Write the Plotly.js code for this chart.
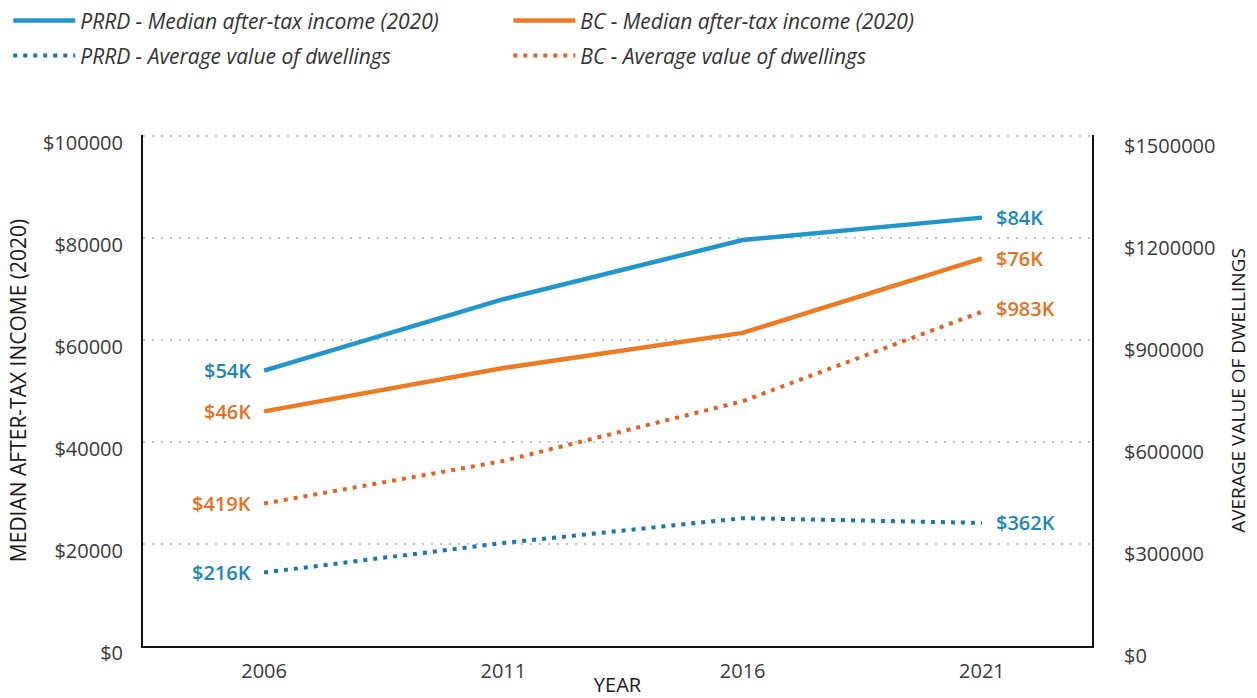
<!DOCTYPE html>
<html>
<head>
<meta charset="utf-8">
<script src="https://cdn.plot.ly/plotly-3.0.1.min.js"></script>
<style>html,body{margin:0;padding:0;background:#fff;}#chart{width:1257px;height:698px;}</style>
</head>
<body>
<div id="chart"></div>
<script>
// Data
const years = [2006, 2011, 2016, 2021];
const prrdIncome = [54000, 68000, 79600, 84000];
const bcIncome = [46000, 54500, 61400, 76000];
const prrdDwelling = [216000, 303000, 376000, 362000];
const bcDwelling = [419000, 544000, 720000, 983000];
const leftTicks = [0, 20000, 40000, 60000, 80000, 100000];
const rightTicks = [0, 300000, 600000, 900000, 1200000, 1500000];
const seriesNames = [
  'PRRD - Median after-tax income (2020)',
  'BC - Median after-tax income (2020)',
  'PRRD - Average value of dwellings',
  'BC - Average value of dwellings'
];
const labelFirst = ['$54K', '$46K', '$216K', '$419K'];
const labelLast = ['$84K', '$76K', '$362K', '$983K'];

const blue = '#1f96cc', blueDot = '#1479b3', orange = '#ee7a22', orangeDot = '#e95f1f';
const blueTxt = '#1a86c0', orangeTxt = '#e8701c';
const FONT = 'Open Sans, sans-serif';

const traces = [
  {x: years, y: prrdIncome, name: seriesNames[0], mode: 'lines', line: {color: blue, width: 4.5}, yaxis: 'y', legend: 'legend'},
  {x: years, y: bcIncome, name: seriesNames[1], mode: 'lines', line: {color: orange, width: 4.5}, yaxis: 'y', legend: 'legend2'},
  {x: years, y: prrdDwelling, name: seriesNames[2], mode: 'lines', line: {color: blueDot, width: 4, dash: '4px,6px'}, yaxis: 'y2', legend: 'legend3'},
  {x: years, y: bcDwelling, name: seriesNames[3], mode: 'lines', line: {color: orangeDot, width: 4, dash: '4px,6px'}, yaxis: 'y2', legend: 'legend4'}
];

const colorsTxt = [blueTxt, orangeTxt, blueTxt, orangeTxt];
const annotations = [];
traces.forEach((t, i) => {
  const last = t.x.length - 1;
  annotations.push({x: t.x[0], y: t.y[0], yref: t.yaxis, xref: 'x', text: labelFirst[i], showarrow: false,
    xanchor: 'right', xshift: -11, font: {family: FONT, size: 20, color: colorsTxt[i], weight: 600}});
  annotations.push({x: t.x[last], y: t.y[last], yref: t.yaxis, xref: 'x', text: labelLast[i], showarrow: false,
    xanchor: 'left', xshift: 12, yshift: (i === 3 ? 3 : 0), font: {family: FONT, size: 20, color: colorsTxt[i], weight: 600}});
});

const tickFont = {family: FONT, size: 20, color: '#3a3a3a'};
const titleFont = {family: FONT, size: 20, color: '#1a1a1a'};
function mkLegend(x, y) {
  return {orientation: 'h', x: x, y: y, xanchor: 'left', yanchor: 'middle',
    itemwidth: 62, itemclick: false,
    font: {family: FONT, size: 21, color: '#333', style: 'italic'}, bgcolor: 'rgba(0,0,0,0)'};
}

const layout = {
  width: 1257, height: 698,
  margin: {l: 143, r: 165, t: 135, b: 52, autoexpand: false},
  paper_bgcolor: '#fff', plot_bgcolor: '#fff',
  showlegend: true,
  legend: mkLegend(-0.142, 1.2235),
  legend2: mkLegend(0.385, 1.2235),
  legend3: mkLegend(-0.142, 1.155),
  legend4: mkLegend(0.385, 1.155),
  xaxis: {
    range: [2003.47, 2023.3], tickvals: years, ticktext: years.map(String),
    showgrid: false, zeroline: false, showline: true, linecolor: '#111', linewidth: 2,
    ticks: '', tickfont: tickFont, ticklabelstandoff: 6,
    title: {text: 'YEAR', font: titleFont, standoff: 0}
  },
  yaxis: {
    range: [0, 100200], tickvals: leftTicks, ticktext: leftTicks.map(v => '$' + v),
    showgrid: true, gridcolor: '#c4c4c4', griddash: '2px,7px', gridwidth: 1.5,
    zeroline: false, showline: true, linecolor: '#111', linewidth: 2,
    ticks: '', tickfont: tickFont, ticklabelstandoff: 14, ticklabelshift: 7,
    title: {text: 'MEDIAN AFTER-TAX INCOME (2020)', font: {family: FONT, size: 21, color: '#1a1a1a'}, standoff: 11}
  },
  yaxis2: {
    range: [0, 1503000], tickvals: rightTicks, ticktext: rightTicks.map(v => '$' + v),
    overlaying: 'y', side: 'right', showgrid: false, zeroline: false,
    showline: true, linecolor: '#111', linewidth: 2,
    ticks: '', tickfont: tickFont, ticklabelstandoff: 26, ticklabelshift: 10,
    title: {text: 'AVERAGE VALUE OF DWELLINGS', font: {family: FONT, size: 19, color: '#1a1a1a'}, standoff: 17}
  },
  annotations: annotations
};

Plotly.newPlot('chart', traces, layout, {displayModeBar: false, staticPlot: true});
</script>
</body>
</html>
